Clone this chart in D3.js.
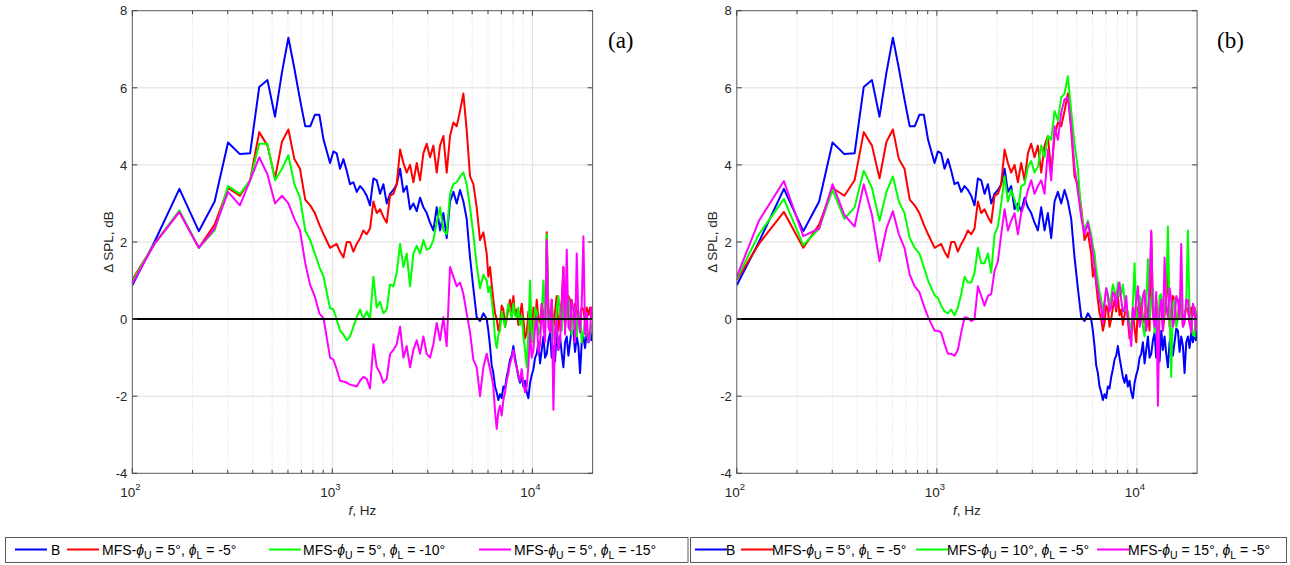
<!DOCTYPE html>
<html>
<head>
<meta charset="utf-8">
<script src="https://cdn.jsdelivr.net/npm/d3@7"></script>
<style>
  body { margin: 0; background: #fff; }
  text { font-family: "Liberation Sans", Arial, Helvetica, sans-serif; }
</style>
</head>
<body>
<div id="chart"></div>
<script>
// frequencies, Hz (shared by every curve)
var freq = [100,129,172,215,258,301,345,388,431,474,517,560,603,646,689,732,775,818,861,904,
  974,1012,1051,1093,1136,1180,1226,1274,1324,1376,1430,1485,1543,1604,1667,1732,1800,1870,1943,2020,
  2098,2181,2266,2354,2446,2542,2641,2745,2852,2963,3079,3200,3325,3455,3590,3730,3876,4028,4185,4349,
  4519,4695,4879,5070,5268,5474,5688,
  5911,6025,6142,6261,6382,6506,6632,6760,6891,7025,7161,7300,7441,7585,7732,7882,8034,8190,8348,8510,
  8675,8843,9014,9191,9371,9553,9739,9928,10120,10316,10515,10719,10926,11138,11354,11573,11797,12026,
  12259,12496,12738,12985,13237,13493,13753,14020,14292,14569,14851,15139,15432,15731,16036,16346,
  16663,16986,17315,17650,17992,18341,18696,19058,19427,19712,20000];

// B (same in both panels)
var bData = [0.88,2.0,3.38,2.28,3.05,4.58,4.28,4.30,6.02,6.20,5.25,6.4,7.30,6.5,5.7,5.0,5.0,5.3,5.3,4.65,
  4.05,4.35,4.3,3.9,4.15,3.85,3.5,3.55,3.3,3.45,3.35,3.2,2.95,3.65,3.6,3.25,3.5,3.0,3.25,3.35,
  3.5,3.9,3.3,3.45,2.85,3.0,2.8,3.15,2.9,2.75,2.5,2.3,2.9,2.3,2.75,2.1,3.05,3.3,3.0,3.35,
  3.05,2.6,1.6,0.8,0.05,-0.05,0.15,
  0.0,-0.3,-0.7,-1.2,-1.4,-1.75,-1.9,-2.1,-1.95,-2.05,-1.75,-1.8,-1.5,-1.3,-1.05,-0.95,-0.7,-1.0,-1.25,-1.5,
  -1.65,-1.45,-1.75,-1.6,-1.9,-2.05,-1.65,-1.45,-1.3,-1.0,-0.9,-0.6,-1.15,-0.8,-0.45,-1.0,-0.9,-0.55,
  -0.35,-1.0,-0.7,-1.1,-0.3,-0.8,-0.45,-0.9,-1.25,-0.6,-0.45,-0.95,-0.6,-0.25,-0.3,-0.85,
  -0.45,-0.7,-1.4,-0.6,-0.45,-0.75,-0.35,-0.6,-0.35,-0.55,-0.3];

// MFS phiU = 5, phiL = -5 (same in both panels)
var rData = [1.02,1.95,2.78,1.85,2.45,3.4,3.2,3.6,4.85,4.5,3.65,4.6,4.92,4.15,3.9,3.1,2.95,2.75,2.45,2.2,
  1.85,1.9,1.95,1.75,1.6,2.0,2.0,1.75,1.95,2.1,2.3,2.2,2.35,3.05,2.75,2.85,2.65,2.5,3.2,3.25,
  3.5,4.4,4.05,3.8,4.0,3.55,4.05,3.6,4.3,4.55,4.2,4.5,3.8,4.5,4.75,3.8,4.75,5.1,5.0,5.4,
  5.85,4.9,3.7,3.5,2.9,2.05,2.25,
  1.7,1.1,1.35,0.9,0.5,0.15,0.0,-0.3,-0.1,0.35,0.25,-0.2,0.0,0.3,0.5,0.2,0.6,0.1,0.25,-0.15,
  0.1,0.4,0.0,-0.5,-0.35,0.2,-0.25,-0.6,0.3,-0.1,0.5,0.0,-0.1,0.4,0.15,-0.3,2.25,0.3,
  -0.05,0.5,-0.25,0.2,0.6,-0.3,0.1,0.5,1.35,-0.2,0.2,0.6,0.5,-0.1,0.05,0.4,
  0.25,-0.15,0.1,0.3,0.25,-0.1,0.3,0.1,0.3,0.0,0.2];

// panel (a): MFS phiU = 5, phiL = -10 / -15
var gDataA = [0.98,1.95,2.82,1.85,2.3,3.45,3.25,3.6,4.55,4.55,3.6,3.9,4.25,3.5,3.15,2.3,2.05,1.7,1.35,1.1,
  0.28,0.25,0.0,-0.3,-0.4,-0.55,-0.45,-0.2,0.05,0.25,0.0,0.2,0.0,1.1,0.3,0.45,0.15,0.25,0.9,0.85,
  1.2,1.95,1.35,1.7,0.85,1.7,1.9,1.7,2.05,1.8,1.85,2.05,2.5,2.9,2.3,2.2,3.25,3.5,3.55,3.7,
  3.8,3.5,2.9,2.2,1.4,0.8,1.15,
  1.0,0.7,0.85,0.5,0.1,-0.5,-0.75,-0.4,-0.3,0.2,0.0,-0.2,0.15,0.4,0.2,0.0,0.4,0.1,0.05,0.3,
  -0.15,0.1,-0.45,-0.8,-1.25,-0.3,1.0,-0.6,-0.35,0.3,0.2,-0.4,-0.3,0.2,1.0,-0.2,2.2,0.1,
  -0.1,0.4,-0.35,-0.6,0.25,0.6,0.15,-0.3,0.5,-0.1,0.3,0.55,0.0,-0.4,0.15,0.3,
  -0.45,0.1,0.15,-0.6,-0.35,0.0,-0.3,-0.6,-0.45,-0.2,-0.1];
var mDataA = [0.92,1.95,2.78,1.85,2.35,3.3,2.95,3.6,4.2,3.75,3.0,3.2,3.0,2.6,2.3,1.45,0.88,0.58,0.15,0.02,
  -1.0,-1.05,-1.3,-1.6,-1.62,-1.65,-1.7,-1.72,-1.75,-1.6,-1.5,-1.55,-1.8,-0.65,-1.25,-1.4,-1.65,-1.55,-0.9,-0.8,
  -0.65,-0.2,-1.0,-0.7,-1.25,-0.8,-0.55,-0.9,-0.45,-0.9,-1.0,-0.65,-0.1,-0.55,0.05,-0.7,1.35,1.1,0.85,0.95,
  0.65,0.15,-0.35,-1.05,-1.25,-2.0,-1.25,
  -0.9,-1.1,-1.3,-1.5,-1.75,-2.4,-2.85,-2.4,-2.25,-2.5,-2.1,-1.9,-1.6,-1.4,-1.15,-1.0,-0.8,-1.1,-1.25,-1.45,
  -1.6,-1.3,-1.65,-1.9,-1.75,-1.2,-0.35,-1.0,-0.8,-0.2,0.05,-0.9,-0.65,0.4,-0.2,-0.6,2.05,-0.2,
  -0.35,0.5,-2.35,-0.3,0.0,-0.8,-0.55,0.3,1.35,-0.4,1.8,-0.2,-0.3,0.5,0.25,-0.6,
  1.7,0.0,-0.35,0.4,2.15,-0.4,0.15,-0.6,-0.35,0.3,0.0];

// panel (b): MFS phiU = 10 / 15, phiL = -5
var gDataB = [1.05,2.2,3.12,1.92,2.35,3.35,2.6,2.9,3.85,3.4,2.55,3.3,3.7,3.05,2.75,2.1,1.85,1.7,1.35,1.0,
  0.62,0.55,0.35,0.2,0.15,0.25,0.1,0.3,0.65,1.1,0.95,0.95,1.2,1.85,1.45,1.45,1.7,1.2,2.2,2.4,
  3.0,3.7,3.05,3.35,3.1,2.8,3.45,3.5,3.95,4.1,3.8,3.95,4.5,4.2,4.75,4.65,5.4,5.15,5.75,5.85,
  6.3,5.4,4.55,3.9,2.75,2.3,2.55,
  2.2,1.9,1.7,1.3,1.0,0.7,0.5,0.2,0.45,0.8,0.65,0.3,0.6,0.9,0.75,0.5,0.95,0.6,0.65,0.9,
  0.5,0.2,0.2,-0.1,-0.3,0.4,1.45,0.1,0.0,0.6,0.5,-0.2,-0.45,0.4,1.55,0.0,0.5,0.8,
  -0.35,0.3,-0.35,0.6,0.65,-0.1,0.3,0.7,2.4,0.2,-1.5,0.4,0.5,-0.2,0.0,0.5,
  0.75,-0.2,0.05,0.4,2.3,0.1,0.0,-0.4,-0.45,0.2,0.05];
var mDataB = [1.1,2.55,3.58,2.15,2.35,3.5,2.7,2.4,3.5,2.7,1.5,2.35,2.8,2.2,1.85,1.15,0.85,0.7,0.35,0.05,
  -0.3,-0.3,-0.35,-0.65,-0.9,-0.9,-0.95,-0.8,-0.35,0.05,0.03,-0.05,0.0,0.85,0.6,0.35,0.6,0.65,1.25,1.5,
  2.2,2.85,2.3,2.55,2.75,2.2,2.75,3.0,3.35,3.6,3.25,3.45,3.6,3.25,4.4,3.6,5.0,4.65,5.35,5.7,
  5.75,5.0,3.95,3.3,2.65,2.2,2.5,
  2.05,1.7,1.35,1.0,0.75,0.5,0.3,-0.1,0.4,0.8,0.6,0.2,0.3,0.7,0.65,0.3,0.75,0.95,0.5,0.2,
  0.25,0.6,0.0,-0.3,-0.7,0.3,0.0,0.5,0.85,-0.2,0.0,0.6,0.75,-0.3,0.0,0.9,2.3,0.1,
  -0.2,0.7,-2.25,0.2,0.5,-0.3,1.6,0.3,0.05,0.8,0.5,-0.2,0.0,0.6,0.5,0.0,
  1.95,-0.2,-0.1,0.5,0.5,-0.1,-0.35,0.4,0.25,-0.3,0.15];

var colors = ["#0000ff", "#ff0000", "#00ff00", "#ff00ff"];
var yTicks = [-4, -2, 0, 2, 4, 6, 8];
var xDecades = [100, 1000, 10000];
var xMinor = [200,300,400,500,600,700,800,900,2000,3000,4000,5000,6000,7000,8000,9000];

// legend entries: [phiU, phiL] of each MFS curve
var legendA = [["5", "-5"], ["5", "-10"], ["5", "-15"]];
var legendB = [["5", "-5"], ["10", "-5"], ["15", "-5"]];

var svg = d3.select("#chart").append("svg")
    .attr("width", 1290)
    .attr("height", 565);

var plotTop = 10.7, plotBottom = 473.3, plotW = 460.3;

var y = d3.scaleLinear().domain([-4, 8]).range([plotBottom, plotTop]);

function drawPanel(left, series, tag, tagX, id) {
    var x = d3.scaleLog().domain([100, 20000]).range([left, left + plotW]);
    var g = svg.append("g");

    // grid
    g.selectAll(".minor").data(xMinor).enter().append("line")
        .attr("x1", function(d){ return x(d); }).attr("x2", function(d){ return x(d); })
        .attr("y1", plotTop).attr("y2", plotBottom)
        .attr("stroke", "#c8c8c8").attr("stroke-width", 0.7)
        .attr("stroke-dasharray", "1,2");
    g.selectAll(".xgrid").data(xDecades.slice(1)).enter().append("line")
        .attr("x1", function(d){ return x(d); }).attr("x2", function(d){ return x(d); })
        .attr("y1", plotTop).attr("y2", plotBottom)
        .attr("stroke", "#dedede").attr("stroke-width", 1);
    g.selectAll(".ygrid").data(yTicks.slice(1, -1)).enter().append("line")
        .attr("x1", left).attr("x2", left + plotW)
        .attr("y1", function(d){ return y(d); }).attr("y2", function(d){ return y(d); })
        .attr("stroke", "#dedede").attr("stroke-width", 1);

    // curves
    svg.append("clipPath").attr("id", "clip" + id).append("rect")
        .attr("x", left).attr("y", plotTop).attr("width", plotW).attr("height", plotBottom - plotTop);

    var line = d3.line()
        .x(function(d, i){ return x(freq[i]); })
        .y(function(d){ return y(d); });

    var curves = g.append("g").attr("clip-path", "url(#clip" + id + ")");
    series.forEach(function(s, i) {
        curves.append("path")
            .attr("d", line(s))
            .attr("fill", "none")
            .attr("stroke", colors[i])
            .attr("stroke-width", 2)
            .attr("stroke-linejoin", "round");
    });

    // zero line
    g.append("line")
        .attr("x1", x(100)).attr("x2", x(20000))
        .attr("y1", y(0)).attr("y2", y(0))
        .attr("stroke", "#000").attr("stroke-width", 2);

    // box + ticks
    g.append("rect")
        .attr("x", left).attr("y", plotTop).attr("width", plotW).attr("height", plotBottom - plotTop)
        .attr("fill", "none").attr("stroke", "#5a5a5a").attr("stroke-width", 1);

    var tk = g.append("g").attr("stroke", "#404040").attr("stroke-width", 1);
    yTicks.forEach(function(d) {
        tk.append("line").attr("x1", left).attr("x2", left + 5).attr("y1", y(d)).attr("y2", y(d));
        tk.append("line").attr("x1", left + plotW).attr("x2", left + plotW - 5).attr("y1", y(d)).attr("y2", y(d));
    });
    xDecades.concat(xMinor).forEach(function(d) {
        var len = xDecades.indexOf(d) >= 0 ? 5 : 3.5;
        tk.append("line").attr("x1", x(d)).attr("x2", x(d)).attr("y1", plotBottom).attr("y2", plotBottom - len);
        tk.append("line").attr("x1", x(d)).attr("x2", x(d)).attr("y1", plotTop).attr("y2", plotTop + len);
    });

    // tick labels
    g.selectAll(".ylab").data(yTicks).enter().append("text")
        .attr("x", left - 5).attr("y", function(d){ return y(d) + 4.7; })
        .attr("text-anchor", "end")
        .attr("font-size", "13px").attr("fill", "#262626")
        .text(function(d){ return d; });

    xDecades.forEach(function(d) {
        var t = g.append("text")
            .attr("x", x(d) - 2).attr("y", 497)
            .attr("text-anchor", "middle")
            .attr("font-size", "13.5px").attr("fill", "#262626");
        t.append("tspan").text("10");
        t.append("tspan").attr("font-size", "9.5px").attr("dy", -7).text(Math.log10(d));
    });

    // axis labels
    g.append("text")
        .attr("transform", "translate(" + (left - 19.5) + "," + ((plotTop + plotBottom) / 2) + ") rotate(-90)")
        .attr("text-anchor", "middle")
        .attr("font-size", "13.5px").attr("fill", "#262626")
        .text("\u0394 SPL, dB");

    var xl = g.append("text")
        .attr("x", left + plotW / 2).attr("y", 515)
        .attr("text-anchor", "middle")
        .attr("font-size", "13.5px").attr("fill", "#262626");
    xl.append("tspan").attr("font-style", "italic").text("f");
    xl.append("tspan").text(", Hz");

    // panel tag, outside the box on the right
    g.append("text")
        .attr("x", tagX).attr("y", 48)
        .style("font-family", "'Liberation Serif', 'Times New Roman', serif")
        .attr("font-size", "23px").attr("fill", "#000")
        .text(tag);
}

drawPanel(132.3, [bData, rData, gDataA, mDataA], "(a)", 608, "a");
drawPanel(736.8, [bData, rData, gDataB, mDataB], "(b)", 1217, "b");

// legends
function drawLegend(bx, bw, lineX, textX, entries) {
    var lg = svg.append("g");
    lg.append("rect")
        .attr("x", bx).attr("y", 537.5).attr("width", bw).attr("height", 25)
        .attr("fill", "#fff").attr("stroke", "#5a5a5a").attr("stroke-width", 1);
    var ly = 549.5;
    lineX.forEach(function(lx, i) {
        lg.append("line")
            .attr("x1", lx).attr("x2", lx + 32).attr("y1", ly).attr("y2", ly)
            .attr("stroke", colors[i]).attr("stroke-width", 2);
        var t = lg.append("text")
            .attr("x", textX[i]).attr("y", ly + 5)
            .attr("font-size", "14px").attr("fill", "#000");
        if (i === 0) { t.text("B"); return; }
        var e = entries[i - 1];
        t.append("tspan").text("MFS-");
        t.append("tspan").attr("font-style", "italic").text("\u03d5");
        t.append("tspan").attr("font-size", "10.5px").attr("dy", 4).text("U");
        t.append("tspan").attr("dy", -4).text(" = " + e[0] + "\u00b0, ");
        t.append("tspan").attr("font-style", "italic").text("\u03d5");
        t.append("tspan").attr("font-size", "10.5px").attr("dy", 4).text("L");
        t.append("tspan").attr("dy", -4).text(" = " + e[1] + "\u00b0");
    });
}

drawLegend(5.5, 682.5, [15, 67, 269, 479], [51, 102, 303, 514], legendA);
drawLegend(690.5, 596, [695, 741, 916, 1097], [726, 772, 947, 1128], legendB);
</script>
</body>
</html>
